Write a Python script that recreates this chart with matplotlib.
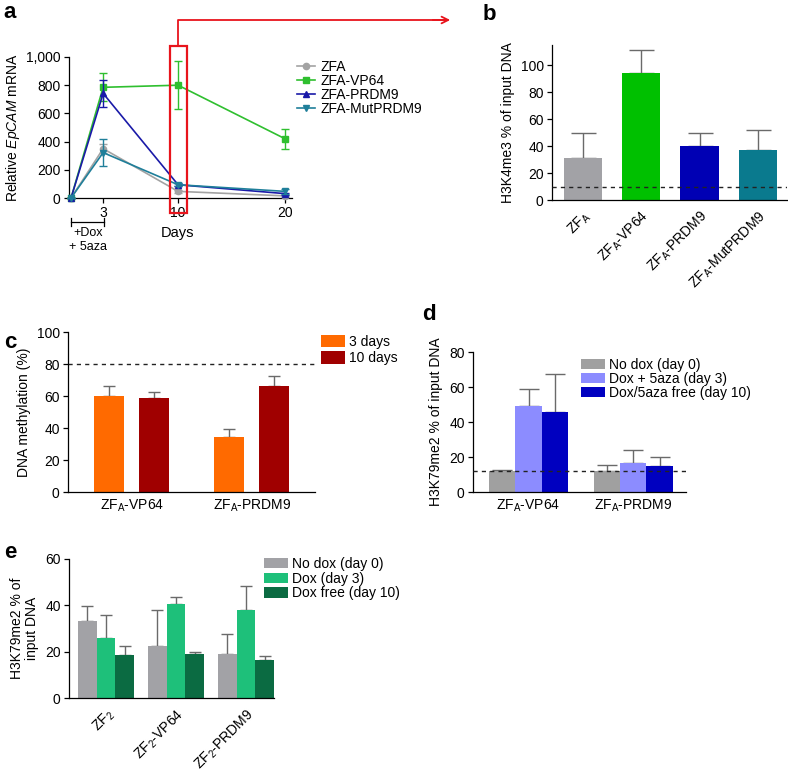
import numpy as np
import matplotlib
matplotlib.use('Agg')
import matplotlib.pyplot as plt
from matplotlib.patches import Rectangle, FancyArrowPatch
from matplotlib.lines import Line2D

plt.rcParams['font.family'] = ['Liberation Sans', 'DejaVu Sans']
plt.rcParams['mathtext.fontset'] = 'custom'
plt.rcParams['mathtext.rm'] = 'Liberation Sans'
plt.rcParams['mathtext.it'] = 'Liberation Sans:italic'
plt.rcParams['font.size'] = 10
plt.rcParams['axes.linewidth'] = 0.9

W, H = 788, 772
FS = 10

# ---- panel a: EpCAM mRNA time course
days = [0, 3, 10, 20]
series_a = ['ZFA', 'ZFA-VP64', 'ZFA-PRDM9', 'ZFA-MutPRDM9']
zfa = [0, 350, 47, 15]
zfa_err = [0, 30, 8, 5]
vp64 = [0, 785, 800, 420]
vp64_err = [0, 100, 170, 70]
prdm9 = [0, 742, 94, 31]
prdm9_err = [0, 98, 12, 8]
mut = [0, 322, 94, 47]
mut_err = [0, 95, 12, 18]

# ---- panel b: H3K4me3
b_labels = [r'ZF$_\mathrm{A}$', r'ZF$_\mathrm{A}$-VP64', r'ZF$_\mathrm{A}$-PRDM9',
            r'ZF$_\mathrm{A}$-MutPRDM9']
b_vals = [31, 94, 40, 37]
b_err = [19, 17, 10, 15]
b_base = 10

# ---- panel c: DNA methylation
c_groups = [r'ZF$_\mathrm{A}$-VP64', r'ZF$_\mathrm{A}$-PRDM9']
c_3d = [60, 34.5]
c_3d_err = [6.5, 5]
c_10d = [59, 66.5]
c_10d_err = [3.5, 6]
c_base = 80

# ---- panel d: H3K79me2 (ZF_A)
d_groups = [r'ZF$_\mathrm{A}$-VP64', r'ZF$_\mathrm{A}$-PRDM9']
d_nodox = [11.8, 12.2]
d_nodox_err = [0.5, 3.3]
d_dox = [49, 16.3]
d_dox_err = [10, 7.5]
d_free = [46, 14.7]
d_free_err = [21.5, 5.4]
d_base = 11.8

# ---- panel e: H3K79me2 (ZF_2)
e_groups = [r'ZF$_\mathrm{2}$', r'ZF$_\mathrm{2}$-VP64', r'ZF$_\mathrm{2}$-PRDM9']
e_nodox = [33.3, 22.4, 19.2]
e_nodox_err = [6.4, 15.8, 8.6]
e_dox = [26, 40.4, 38.2]
e_dox_err = [9.8, 3.3, 10.1]
e_free = [18.5, 18.8, 16.3]
e_free_err = [3.9, 1, 1.9]

fig = plt.figure(figsize=(W / 100, H / 100), dpi=100)


def px_axes(left, top, right, bottom):
    return fig.add_axes([left / W, 1 - bottom / H, (right - left) / W, (bottom - top) / H])


def fx(x):
    return x / W


def fy(y):
    return 1 - y / H


def style(ax):
    ax.spines['top'].set_visible(False)
    ax.spines['right'].set_visible(False)
    ax.tick_params(direction='out', length=3.5, width=0.9, colors='black', labelsize=FS, pad=2.5)


ERR = '#6a6a6a'

# ================= panel a
ax = px_axes(68.9, 57, 291.5, 198)
style(ax)
cols_a = ['#a3a3a3', '#2fbf2f', '#1a1aa8', '#1f7f9a']
marks = ['o', 's', '^', 'v']
for vals, err, c, m, lab in zip([zfa, vp64, prdm9, mut], [zfa_err, vp64_err, prdm9_err, mut_err],
                                cols_a, marks, series_a):
    ax.errorbar(days, vals, yerr=err, fmt='none', ecolor=c, capsize=2.8, elinewidth=1,
                clip_on=False, zorder=3)
    ax.plot(days, vals, color=c, marker=m, ms=4.5, lw=1.2, label=lab, clip_on=False, zorder=3)
ax.set_xlim(-0.2, 20.6)
ax.set_ylim(0, 1000)
ax.set_xticks([3, 10, 20])
ax.set_yticks(range(0, 1001, 200))
ax.set_yticklabels(['0', '200', '400', '600', '800', '1,000'])
ax.set_ylabel(r'Relative $\it{EpCAM}$ mRNA', fontsize=FS, labelpad=3)
ax.legend(loc='upper left', bbox_to_anchor=(fx(297), fy(60)), bbox_transform=fig.transFigure,
          frameon=False, handlelength=1.3, handletextpad=0.4, borderpad=0, borderaxespad=0,
          labelspacing=0.0, fontsize=FS)

# red box and arrow
fig.add_artist(Rectangle((fx(170), fy(213)), fx(17), (213 - 46) / H, transform=fig.transFigure,
                         fill=False, ec='#e8141c', lw=1.6))
fig.add_artist(Line2D([fx(178), fx(178), fx(445)], [fy(46), fy(20), fy(20)],
                      transform=fig.transFigure, color='#e8141c', lw=1.3))
fig.add_artist(FancyArrowPatch((fx(430), fy(20)), (fx(453), fy(20)), transform=fig.transFigure,
                               arrowstyle='->', mutation_scale=12, color='#e8141c', lw=1.3))
# dox bracket
fig.add_artist(Line2D([fx(71), fx(104)], [fy(222), fy(222)], transform=fig.transFigure,
                      color='black', lw=0.9))
for xx in (71, 104):
    fig.add_artist(Line2D([fx(xx), fx(xx)], [fy(218), fy(226)], transform=fig.transFigure,
                          color='black', lw=0.9))
fig.text(fx(88), fy(233), '+Dox', ha='center', va='center', fontsize=9)
fig.text(fx(88), fy(247), '+ 5aza', ha='center', va='center', fontsize=9)
fig.text(fx(178), fy(233), 'Days', ha='center', va='center', fontsize=10.5)

# ================= panel b
ax = px_axes(552, 45, 787, 200)
style(ax)
xb = np.arange(len(b_vals))
cols_b = ['#a2a2a6', '#00c000', '#0000b4', '#0a7a8e']
ax.bar(xb, b_vals, width=0.655, color=cols_b, zorder=2)
ax.errorbar(xb, b_vals, yerr=[[0] * len(b_err), b_err], fmt='none', ecolor=ERR, capsize=9,
            elinewidth=1, capthick=1, zorder=1)
ax.axhline(b_base, color='#222222', ls=(0, (3, 3)), lw=1, zorder=3)
ax.set_xlim(-0.53, 3.5)
ax.set_ylim(0, 115)
ax.set_yticks(range(0, 101, 20))
ax.set_xticks(xb)
ax.set_xticklabels(b_labels, rotation=45, ha='right', rotation_mode='anchor')
ax.tick_params(axis='x', length=0, pad=6)
ax.set_ylabel('H3K4me3 % of input DNA', fontsize=FS, labelpad=4)

# ================= panel c
ax = px_axes(68, 332, 315, 492)
style(ax)
xc = np.arange(len(c_groups))
ax.bar(xc - 0.1875, c_3d, width=0.25, color='#ff6a00', label='3 days', zorder=2)
ax.bar(xc + 0.1875, c_10d, width=0.25, color='#a00000', label='10 days', zorder=2)
ax.errorbar(xc - 0.1875, c_3d, yerr=[[0, 0], c_3d_err], fmt='none', ecolor=ERR, capsize=4,
            elinewidth=1, zorder=1)
ax.errorbar(xc + 0.1875, c_10d, yerr=[[0, 0], c_10d_err], fmt='none', ecolor=ERR, capsize=4,
            elinewidth=1, zorder=1)
ax.axhline(c_base, color='#222222', ls=(0, (3, 3)), lw=1)
ax.set_xlim(-0.533, 1.525)
ax.set_ylim(0, 100)
ax.set_xticks(xc)
ax.set_xticklabels(c_groups)
ax.tick_params(axis='x', length=0, pad=4)
ax.set_ylabel('DNA methylation (%)', fontsize=FS, labelpad=4)
ax.legend(loc='upper left', bbox_to_anchor=(fx(321), fy(335)), bbox_transform=fig.transFigure,
          frameon=False, handlelength=1.7, handleheight=1.0, handletextpad=0.3, borderpad=0,
          borderaxespad=0, labelspacing=0.15, fontsize=FS)

# ================= panel d
ax = px_axes(473, 352, 686, 492)
style(ax)
xd = np.arange(len(d_groups))
w = 0.251
for off, vals, err, c, lab in zip([-w, 0, w], [d_nodox, d_dox, d_free],
                                  [d_nodox_err, d_dox_err, d_free_err],
                                  ['#a0a0a0', '#8c8cff', '#0000c0'],
                                  ['No dox (day 0)', 'Dox + 5aza (day 3)', 'Dox/5aza free (day 10)']):
    ax.bar(xd + off, vals, width=w, color=c, label=lab, zorder=2)
    ax.errorbar(xd + off, vals, yerr=[[0] * len(err), err], fmt='none', ecolor=ERR, capsize=7,
                elinewidth=1, zorder=1)
ax.axhline(d_base, color='#222222', ls=(0, (3, 3)), lw=1, zorder=3)
ax.set_xlim(-0.53, 1.504)
ax.set_ylim(0, 80)
ax.set_yticks(range(0, 81, 20))
ax.set_xticks(xd)
ax.set_xticklabels(d_groups)
ax.tick_params(axis='x', length=0, pad=4)
ax.set_ylabel('H3K79me2 % of input DNA', fontsize=FS, labelpad=4)
ax.legend(loc='upper left', bbox_to_anchor=(fx(581), fy(358)), bbox_transform=fig.transFigure,
          frameon=False, handlelength=1.7, handleheight=0.8, handletextpad=0.3, borderpad=0,
          borderaxespad=0, labelspacing=0.0, fontsize=FS)

# ================= panel e
ax = px_axes(69, 559, 274, 698)
style(ax)
xe = np.arange(len(e_groups))
w = 0.267
for off, vals, err, c, lab in zip([-w, 0, w], [e_nodox, e_dox, e_free],
                                  [e_nodox_err, e_dox_err, e_free_err],
                                  ['#a2a2a6', '#1ec07a', '#0b6b42'],
                                  ['No dox (day 0)', 'Dox (day 3)', 'Dox free (day 10)']):
    ax.bar(xe + off, vals, width=w, color=c, label=lab, zorder=2)
    ax.errorbar(xe + off, vals, yerr=[[0] * len(err), err], fmt='none', ecolor=ERR, capsize=4.5,
                elinewidth=1, zorder=1)
ax.set_xlim(-0.53, 2.4)
ax.set_ylim(0, 60)
ax.set_yticks(range(0, 61, 20))
ax.set_xticks(xe)
ax.set_xticklabels(e_groups, rotation=45, ha='right', rotation_mode='anchor')
ax.tick_params(axis='x', length=0, pad=6)
ax.set_ylabel('H3K79me2 % of\ninput DNA', fontsize=FS, labelpad=4, linespacing=1.1)
ax.legend(loc='upper left', bbox_to_anchor=(fx(264), fy(557)), bbox_transform=fig.transFigure,
          frameon=False, handlelength=1.7, handleheight=0.8, handletextpad=0.3, borderpad=0,
          borderaxespad=0, labelspacing=0.05, fontsize=FS)

# panel letters
for lab, x, y in [('a', 10, 12), ('b', 489, 14), ('c', 10, 343), ('d', 429, 314), ('e', 10, 552)]:
    fig.text(fx(x), fy(y), lab, fontsize=16, fontweight='bold', ha='center', va='center')

fig.savefig('out.png', dpi=100)
